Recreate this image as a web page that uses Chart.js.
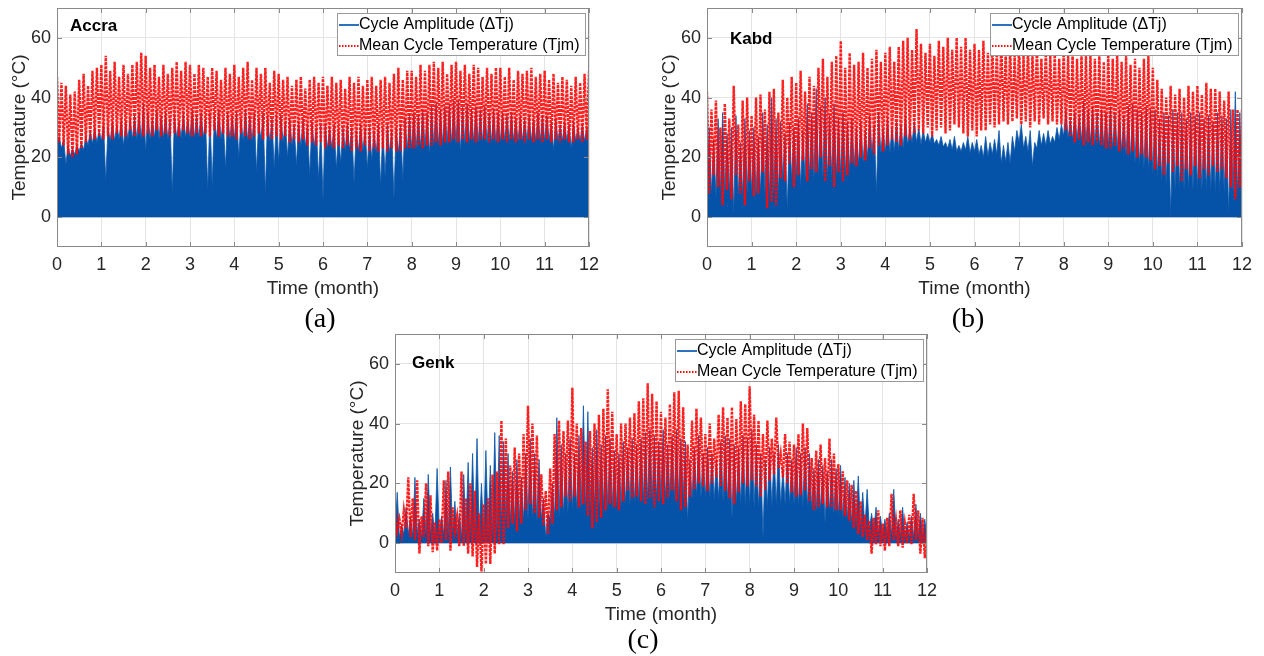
<!DOCTYPE html>
<html>
<head>
<meta charset="utf-8">
<script src="https://cdn.jsdelivr.net/npm/chart.js@4.4.1/dist/chart.umd.min.js"></script>
<style>
body{margin:0;background:#fff;width:1264px;height:656px;position:relative;overflow:hidden;}
.panel{position:absolute;}
.panel canvas{display:block;}
.tag{position:absolute;font-family:'Liberation Serif','Times New Roman',serif;font-size:28px;color:#000;transform:translate(-50%,-50%);line-height:1;}
</style>
</head>
<body>
<div class="panel" style="left:0;top:0"><canvas id="chartAccra" width="600" height="310"></canvas></div>
<div class="panel" style="left:650px;top:0"><canvas id="chartKabd" width="614" height="310"></canvas></div>
<div class="panel" style="left:338px;top:326px"><canvas id="chartGenk" width="600" height="310"></canvas></div>
<div class="tag" style="left:320px;top:318px">(a)</div>
<div class="tag" style="left:968px;top:318px">(b)</div>
<div class="tag" style="left:643px;top:639px">(c)</div>
<script>
// one sample every 0.1 month, month 0 .. 12
var monthStep = 0.1;
var xTicks = [0,1,2,3,4,5,6,7,8,9,10,11,12];
var yTicks = [0,20,40,60];

// Accra
var accraTjmHi = [47,45,44,41,42,46,48,44,49,50, 51,54,49,52,47,51,48,51,52,55, 54,50,51,47,51,48,50,52,49,52,
  51,48,51,50,47,50,49,46,50,48, 51,47,50,52,46,50,48,50,45,49, 48,46,47,44,46,47,43,46,47,45,
  47,44,47,45,46,43,47,45,47,44, 46,47,44,46,47,45,48,50,46,49, 49,47,51,49,51,52,50,52,48,51,
  52,49,51,48,51,50,47,50,48,50, 50,47,50,46,49,48,49,50,47,48, 49,46,48,45,47,46,44,47,45,48,49];
var accraTjmLo = [25,24,21,20,21,23,25,26,26,27, 26,27,26,28,27,27,29,27,28,27, 28,27,29,27,28,27,28,27,29,28,
  27,28,27,28,27,29,27,28,27,27, 26,28,27,26,27,28,26,27,26,27, 26,27,25,26,25,26,24,25,24,25,
  23,24,23,24,23,24,22,23,22,24, 22,23,22,23,22,23,22,22,23,23, 23,24,23,24,24,25,24,25,25,26,
  25,26,25,26,25,26,26,25,26,25, 26,25,26,25,26,25,26,25,26,25, 26,25,26,25,26,25,25,26,25,26,27];
var accraDtHi = [27,26,24,23,24,25,27,29,30,29, 31,30,32,31,33,32,33,34,35,38, 35,33,36,34,35,33,34,32,35,33,
  36,34,35,33,35,34,36,33,35,34, 35,33,36,34,35,33,35,34,33,34, 34,32,33,31,32,33,31,32,30,31,
  31,30,31,29,30,31,30,29,31,30, 30,29,31,30,31,29,30,31,33,34, 35,34,36,35,37,38,36,37,38,39,
  39,37,38,36,37,36,37,35,36,35, 35,34,35,33,34,33,34,33,35,34, 34,32,33,31,32,31,32,30,31,30,29];
var accraDtLo = [25,23,17.6,20.5,21,22,22.5,24,24.5,25, 25.5,12,25.5,25.5,26,23.7,26,26,26,26,
  22,26,26.5,26,26.5,26,8,26.5,26.5,26.5, 26.5,26.5,26.5,26.5,9,10.4,26,26,16,26,
  26,20,25.5,25.5,25.5,15,25.5,7.6,25,16, 18,25,20,24,17,23.5,23.5,13.7,23.5,12.6,
  6,23,23,16,18,22.5,22.5,11.5,22,22, 16,19,21.5,10.4,13.7,21.5,6.5,21.5,12.6,22.5,
  23,23,23.5,23.5,21,24,24,24.5,24.5,24.5, 24.5,22,24.5,25,25,25,25,25,25,25,
  25,25.5,25.5,25.5,25.5,25.5,25.5,25.5,25.5,25.5, 25.5,25.5,22.5,25.5,25.5,25.5,23,25.5,25.5,25.5,25.5];

// Kabd
var kabdTjmHi = [42,36,39,30,38,33,44,31,39,40, 34,40,41,36,42,43,35,46,40,47, 45,49,42,47,44,50,53,47,52,54,
  59,50,55,51,52,55,50,53,56,52, 55,57,52,57,59,60,56,63,58,55, 58,54,59,57,60,56,60,57,60,56,
  58,56,59,55,58,56,59,55,57,54, 58,54,57,55,57,53,56,54,55,53, 56,54,55,53,55,54,55,53,55,52,
  55,53,55,52,54,51,53,50,53,54, 50,46,43,40,44,41,43,40,44,42, 44,41,45,43,43,42,39,42,36,36,36];
var kabdTjmLo = [8,14,10,4,9,6,14,8,4,12, 7,8,15,3,5,4,13,12,18,10, 14,19,12,16,15,20,12,17,10,15,
  12,14,18,17,20,19,23,21,24,22, 24,26,25,24,27,26,28,29,28,30, 27,29,30,28,29,31,30,28,27,29,
  27,29,29,31,30,31,32,31,32,33, 31,32,30,32,31,33,31,32,31,31, 29,27,25,26,24,25,24,25,24,23,
  23,24,22,23,21,22,20,21,20,19, 16,17,14,18,15,17,12,16,14,17, 13,16,14,17,15,16,13,10,6,10,6];
var kabdDtHi = [30,26,33,35,28,30,34,25,33,29, 30,27,35,31,40,33,32,28,31,30, 33,29,38,35,43,37,40,34,38,33,
  35,32,33,30,32,29,34,31,35,30, 33,30,32,31,34,30,32,30,29,28, 28,26,27,25,26,27,24,25,27,25,
  26,24,27,25,26,29,24,25,27,29, 31,27,29,25,29,28,29,27,30,31, 36,33,35,34,39,36,37,35,36,35,
  37,35,36,34,37,38,36,35,37,36, 36,33,35,34,36,35,35,33,35,34, 35,33,34,32,35,34,33,36,42,35,35];
var kabdDtLo = [7,8,7,8,7.5,8,1.3,7,7.5,8, 8,7.5,8,8,7.5,8,8,12.6,2.4,12.6,
  13,10,13,13.5,13,13.5,13.5,13,13.5,13.7, 14,14.5,15.5,17,17.5,18.5,20,21.5,8,21.5,
  21.5,21.5,22,22.5,23,24,25,25,24.5,25, 25,24.5,24,23.5,23,22.5,22,22,22.5,21.5,
  22,21,20,20.5,21,21,18,18.5,18,22, 25,23,22,17,23,24,24,24.5,25,26,
  27,26.5,26,26,25.5,25,25,24.5,24,24, 23.7,23,22.5,22,21,20,18.2,17.5,16.5,15.5,
  14.8,13.5,12,11,0.5,9.5,9.5,9.5,9.3,9.3, 9.3,9,9,8.8,8.5,8.5,8.5,1,8,8,8];

// Genk
var genkTjmHi = [11,8,11,22,15,21,9,20,16,7, 8,21,24,12,9,24,15,20,17.5,10, 13,15,23,24,41,35,26,32,30,36.5,
  46,40,36,23,17.5,25,36.5,41,37.5,41, 52,40,38.5,34,37.5,40,43,45,51.5,44, 36.5,40,40,42,43.5,47.5,48.5,53.5,50,47.5,
  44,42,46.5,50.5,51,45.5,33,41,45,42, 36.5,40,35,43,45.5,42,45.5,41.5,47.5,46.5, 52.5,43,41,36.5,41,35,42,30,36.5,34,
  33,36.5,40,38.5,28.5,31,33,28.5,35,30, 26.5,24,21,19.5,17.5,14,9.5,7.5,8.5,11, 6.5,8.5,16.5,7.5,11,6.5,9.5,16.5,11,8.5,6.5];
var genkTjmLo = [4,3,5,2,1,-3.5,2,-1,-3,-2.5, 0,1,-2.5,4,-1,-1,-3.5,-4.5,-8,-9.5, -7,-7,-3.5,-0.5,-0.5,5,6.5,4,6.5,11,
  13,10,8.5,6,3,6.5,11,12,15.5,14, 15.5,12,13,9,5,7,8.5,11,13,12, 11,14,17.5,15,15.5,14,13,15,12,14,
  13,15,17.5,14,11,12,15.5,18,20,19, 17.5,20,22,19,17.5,15,13,17,20,19, 21,19,15.5,18,21,23,25,22,20,17,
  15.5,16,17.5,14,11,12,13,12,12,11, 11,9,7.5,5,3,2,1,-3.5,-0.5,-1, -2.5,-1,1,-1,-1.5,0,-0.5,1,-3.5,-5,-0.5];
var genkDtHi = [17,6,12,9,22,8,15,23,10,25, 9,21,25.5,14,10,23,27,30,35,20, 31,26,37,36,34,30,24,28,22,30,
  35,30,28,15,10,20,42,33,30,35, 30,36,46,44,32,38,33,36,35,31, 30,34,32,35,33,35,37,38,36,34,
  38,33,36,38,35,34,28,32,36,30, 32,30,28,34,36,35,33,32,36,35, 38,33,30,28,32,30,33,25,30,28,
  32,30,32,30,25,28,26,24,28,25, 26,22,20,21,22.5,17,18,10,12,9, 8,10,18,8,12,7,9,13,10,8,10];
var genkDtLo = [3,2,3,3,2.5,3,2,3,3,2.5, 3,3,2.5,3,3,2,3,2.5,3,3, 3,3.5,3,4,7,7.5,7,7.5,8,7.5,
  8,8,7.5,8,2,8,8.5,9,9.5,10, 10.8,11,11.5,11.5,12,12.5,12,12.5,12,12, 12,12.5,13,13,13.5,14,14,14.5,14.5,15,
  15,15,15.5,15,15.5,15,7,15,15.5,15, 15,15,14.5,14.5,14,14,8.6,13.5,13,12.5, 12,12,12,2,12,12,12.5,12.5,13,13,
  13,12.5,12.5,12,11.5,11,11,7,10.5,10, 9,8.5,8,7,6.5,5,5,4.5,4,3.5, 3,3,3,2.5,2.5,2,2,2,2,2,2];

var FONT = "'Liberation Sans', Arial, Helvetica, sans-serif";
var TEXT = '#262626';
var GRID = '#e4e4e4';
var FRAME = '#8a8a8a';

// each cycle drawn as a rise and a fall between the two envelopes
function zigzag(first, second) {
  var pts = [];
  first.forEach(function (v, i) {
    pts.push({x: i * monthStep, y: v});
    pts.push({x: (i + 0.5) * monthStep, y: second[i]});
  });
  return pts;
}

var panelDecor = {
  id: 'panelDecor',
  afterDatasetsDraw: function (chart, args, opts) {
    var ctx = chart.ctx, a = chart.chartArea, sx = chart.scales.x, sy = chart.scales.y;
    ctx.save();
    // box and inward tick marks like matlab
    ctx.strokeStyle = FRAME;
    ctx.lineWidth = 1;
    ctx.strokeRect(a.left + 0.5, a.top + 0.5, a.right - a.left - 1, a.bottom - a.top - 1);
    ctx.beginPath();
    xTicks.forEach(function (v) {
      var px = Math.round(sx.getPixelForValue(v)) + 0.5;
      ctx.moveTo(px, a.top); ctx.lineTo(px, a.top + 5);
      ctx.moveTo(px, a.bottom); ctx.lineTo(px, a.bottom - 5);
    });
    yTicks.forEach(function (v) {
      var py = Math.round(sy.getPixelForValue(v)) + 0.5;
      ctx.moveTo(a.left, py); ctx.lineTo(a.left + 5, py);
      ctx.moveTo(a.right, py); ctx.lineTo(a.right - 5, py);
    });
    ctx.stroke();

    // station name
    ctx.fillStyle = '#000';
    ctx.font = 'bold 17px ' + FONT;
    ctx.textBaseline = 'middle';
    ctx.fillText(opts.name, a.left + opts.nameAt[0], a.top + opts.nameAt[1]);

    // legend box top right
    var bx = a.right - 252, by = a.top + 5, bw = 248, bh = 42;
    ctx.fillStyle = '#fff';
    ctx.fillRect(bx, by, bw, bh);
    ctx.strokeStyle = '#9a9a9a';
    ctx.strokeRect(bx + 0.5, by + 0.5, bw, bh);
    ctx.font = '16px ' + FONT;
    chart.data.datasets.forEach(function (ds, i) {
      var cy = by + 12 + i * 21;
      ctx.beginPath();
      ctx.strokeStyle = ds.legendColor;
      ctx.lineWidth = 2;
      ctx.setLineDash(ds.legendDash || []);
      ctx.moveTo(bx + 2, cy); ctx.lineTo(bx + 22, cy);
      ctx.stroke();
      ctx.setLineDash([]);
      ctx.fillStyle = '#000';
      ctx.fillText(ds.label, bx + 22, cy);
    });
    ctx.restore();
  }
};

function makeChart(id, name, nameAt, tjmHi, tjmLo, dtHi, dtLo) {
  return new Chart(document.getElementById(id), {
    type: 'line',
    data: {
      datasets: [
        {
          label: 'Cycle Amplitude (\u0394Tj)',
          data: zigzag(dtLo, dtHi),
          borderColor: '#0a55a8',
          backgroundColor: '#0453a8',
          legendColor: '#2f70bd',
          borderWidth: 0.8,
          fill: 'origin',
          pointRadius: 0,
          order: 1
        },
        {
          label: 'Mean Cycle Temperature (Tjm)',
          data: zigzag(tjmHi, tjmLo),
          borderColor: 'rgba(255,8,8,0.9)',
          legendColor: '#ff0a0a',
          legendDash: [1.5, 1.5],
          borderWidth: 2.4,
          borderDash: [3, 1],
          fill: false,
          pointRadius: 0,
          order: 0
        }
      ]
    },
    options: {
      responsive: false,
      animation: false,
      devicePixelRatio: 1,
      parsing: false,
      normalized: true,
      layout: {padding: {left: 0, right: id === 'chartKabd' ? 22 : 11, top: 8, bottom: 0}},
      plugins: {
        legend: {display: false},
        tooltip: {enabled: false},
        panelDecor: {name: name, nameAt: nameAt}
      },
      scales: {
        x: {
          type: 'linear', min: 0, max: 12,
          afterBuildTicks: function (s) { s.ticks = xTicks.map(function (v) { return {value: v}; }); },
          afterFit: function (s) { s.height = 63; s.paddingLeft = 0; s.paddingRight = 0; },
          grid: {color: GRID, drawTicks: false},
          border: {display: false},
          ticks: {padding: 7, color: TEXT, font: {size: 18, family: FONT}, maxRotation: 0, autoSkip: false},
          title: {display: true, text: 'Time (month)', color: TEXT, font: {size: 19, family: FONT}, padding: {top: 0, bottom: 10}}
        },
        y: {
          type: 'linear', min: -10, max: 70,
          afterBuildTicks: function (s) { s.ticks = yTicks.map(function (v) { return {value: v}; }); },
          afterFit: function (s) { s.width = 57; s.paddingTop = 0; s.paddingBottom = 0; },
          grid: {color: GRID, drawTicks: false},
          border: {display: false},
          ticks: {padding: 6, color: TEXT, font: {size: 18, family: FONT}},
          title: {display: true, text: 'Temperature (\u00B0C)', color: TEXT, font: {size: 19, family: FONT}, padding: {top: 8, bottom: 0}}
        }
      }
    },
    plugins: [panelDecor]
  });
}

makeChart('chartAccra', 'Accra', [13, 18], accraTjmHi, accraTjmLo, accraDtHi, accraDtLo);
makeChart('chartKabd', 'Kabd', [23, 31], kabdTjmHi, kabdTjmLo, kabdDtHi, kabdDtLo);
makeChart('chartGenk', 'Genk', [17, 29], genkTjmHi, genkTjmLo, genkDtHi, genkDtLo);
</script>
</body>
</html>
